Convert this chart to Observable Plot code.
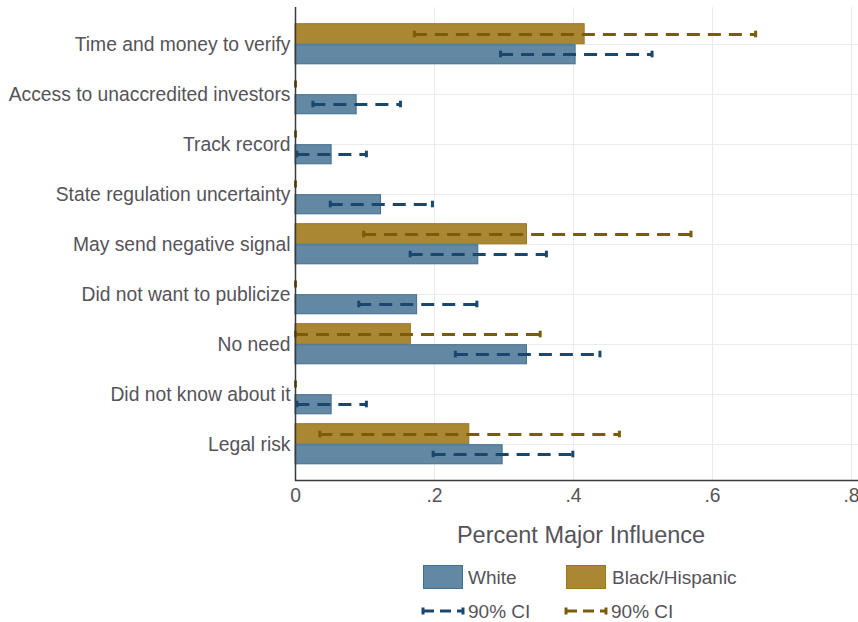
<!DOCTYPE html>
<html>
<head>
<meta charset="utf-8">
<script src="https://cdn.jsdelivr.net/npm/d3@7"></script>
<script src="https://cdn.jsdelivr.net/npm/@observablehq/plot@0.6"></script>
<style>
  html, body { margin: 0; padding: 0; background: #fff; }
  #wrap { position: relative; width: 858px; height: 622px; overflow: hidden; background: #fff;
          font-family: "Liberation Sans", Arial, sans-serif; color: #56535a; }
  #chart { position: absolute; left: 0; top: 0; }
  .abs { position: absolute; line-height: 1; white-space: nowrap; }
  .sw { position: absolute; box-sizing: border-box; }
</style>
</head>
<body>
<div id="wrap">
  <div id="chart"></div>
  <div class="abs" id="xtitle" style="left:381px; width:400px; text-align:center; top:524px; font-size:23.5px;"></div>
  <div class="sw" style="left:423px; top:565px; width:40px; height:24px; background:#6388a3; border:1px solid #3f6f91;"></div>
  <div class="abs" id="lgW" style="left:468px; top:568px; font-size:19px;"></div>
  <div class="sw" style="left:566px; top:565px; width:40px; height:24px; background:#aa8733; border:1px solid #9c7717;"></div>
  <div class="abs" id="lgB" style="left:612px; top:568px; font-size:19px;"></div>
  <svg class="abs" style="left:420px; top:604px;" width="46" height="14">
    <line x1="3" x2="43" y1="7" y2="7" stroke="#1a476f" stroke-width="3" stroke-dasharray="11,6"/>
    <line x1="3" x2="3" y1="3.5" y2="10.5" stroke="#1a476f" stroke-width="3"/>
    <line x1="43" x2="43" y1="3.5" y2="10.5" stroke="#1a476f" stroke-width="3"/>
  </svg>
  <div class="abs" id="lgCI1" style="left:468px; top:602px; font-size:19px;"></div>
  <svg class="abs" style="left:563px; top:604px;" width="46" height="14">
    <line x1="3" x2="43" y1="7" y2="7" stroke="#7b5c0b" stroke-width="3" stroke-dasharray="11,6"/>
    <line x1="3" x2="3" y1="3.5" y2="10.5" stroke="#7b5c0b" stroke-width="3"/>
    <line x1="43" x2="43" y1="3.5" y2="10.5" stroke="#7b5c0b" stroke-width="3"/>
  </svg>
  <div class="abs" id="lgCI2" style="left:611px; top:602px; font-size:19px;"></div>
</div>
<script>
const categories = [
  "Time and money to verify",
  "Access to unaccredited investors",
  "Track record",
  "State regulation uncertainty",
  "May send negative signal",
  "Did not want to publicize",
  "No need",
  "Did not know about it",
  "Legal risk"
];
const whiteVals = [0.403, 0.088, 0.052, 0.123, 0.263, 0.175, 0.333, 0.052, 0.298];
const whiteLo   = [0.295, 0.025, 0.002, 0.050, 0.165, 0.091, 0.230, 0.002, 0.198];
const whiteHi   = [0.513, 0.151, 0.102, 0.197, 0.361, 0.261, 0.438, 0.102, 0.399];
const bhVals    = [0.416, 0, 0, 0, 0.333, 0, 0.166, 0, 0.250];
const bhLo      = [0.171, 0, 0, 0, 0.098, 0, 0.000, 0, 0.035];
const bhHi      = [0.662, 0, 0, 0, 0.569, 0, 0.352, 0, 0.466];
const xTicks = [0, 0.2, 0.4, 0.6, 0.8];
const xTickLabels = ["0", ".2", ".4", ".6", ".8"];
const seriesNames = ["White", "Black/Hispanic"];
const ciLabel = "90% CI";
const xTitle = "Percent Major Influence";

const white = categories.map((c, i) => ({cat: c, v: whiteVals[i], lo: whiteLo[i], hi: whiteHi[i]}));
const bh = categories.map((c, i) => ({cat: c, v: bhVals[i], lo: bhLo[i], hi: bhHi[i]}));

const C = {
  wFill: "#6388a3", wStroke: "#3f6f91", wCI: "#1a476f",
  bFill: "#aa8733", bStroke: "#9c7717", bCI: "#7b5c0b",
  grid: "#ebebeb", axis: "#3a3a3a"
};
const half = 25.2, barH = 20, capOff = 10, capHalf = 3.5;
const dash = "13,8";

const plot = Plot.plot({
  width: 858,
  height: 512,
  marginLeft: 295,
  marginRight: 0,
  marginTop: 7,
  marginBottom: 32,
  style: {fontFamily: "'Liberation Sans', Arial, sans-serif", fontSize: "19.3px", color: "#56535a", background: "white", overflow: "visible"},
  x: {domain: [0, 0.81], ticks: xTicks, tickFormat: (d) => xTickLabels[xTicks.indexOf(d)] ?? "", tickSize: 0, tickPadding: 8, label: null},
  y: {domain: categories, paddingInner: 0, paddingOuter: 0.19, tickSize: 0, tickPadding: 5, label: null},
  marks: [
    Plot.ruleX(xTicks.slice(1), {stroke: C.grid, strokeWidth: 1}),
    Plot.ruleY(categories, {stroke: C.grid, strokeWidth: 1}),
    Plot.barX(bh.filter(d => d.v > 0), {x: "v", y: "cat", fill: C.bFill, stroke: C.bStroke, strokeWidth: 1, insetTop: half - barH - 0.5, insetBottom: half}),
    Plot.barX(white.filter(d => d.v > 0), {x: "v", y: "cat", fill: C.wFill, stroke: C.wStroke, strokeWidth: 1, insetTop: half + 0.5, insetBottom: half - barH}),
    Plot.ruleY(bh, {y: "cat", x1: "lo", x2: "hi", dy: -capOff, stroke: C.bCI, strokeWidth: 3, strokeDasharray: dash}),
    Plot.ruleY(white, {y: "cat", x1: "lo", x2: "hi", dy: capOff, stroke: C.wCI, strokeWidth: 3, strokeDasharray: dash}),
    Plot.tickX(bh, {x: "lo", y: "cat", stroke: C.bCI, strokeWidth: 3, insetTop: half - capOff - capHalf, insetBottom: half + capOff - capHalf}),
    Plot.tickX(bh, {x: "hi", y: "cat", stroke: C.bCI, strokeWidth: 3, insetTop: half - capOff - capHalf, insetBottom: half + capOff - capHalf}),
    Plot.tickX(white, {x: "lo", y: "cat", stroke: C.wCI, strokeWidth: 3, insetTop: half + capOff - capHalf, insetBottom: half - capOff - capHalf}),
    Plot.tickX(white, {x: "hi", y: "cat", stroke: C.wCI, strokeWidth: 3, insetTop: half + capOff - capHalf, insetBottom: half - capOff - capHalf}),
    Plot.ruleX([0], {stroke: C.axis, strokeWidth: 1.5}),
    Plot.frame({anchor: "bottom", stroke: C.axis, strokeWidth: 1.5})
  ]
});
document.getElementById("chart").appendChild(plot);
document.getElementById("xtitle").textContent = xTitle;
document.getElementById("lgW").textContent = seriesNames[0];
document.getElementById("lgB").textContent = seriesNames[1];
document.getElementById("lgCI1").textContent = ciLabel;
document.getElementById("lgCI2").textContent = ciLabel;
</script>
</body>
</html>
